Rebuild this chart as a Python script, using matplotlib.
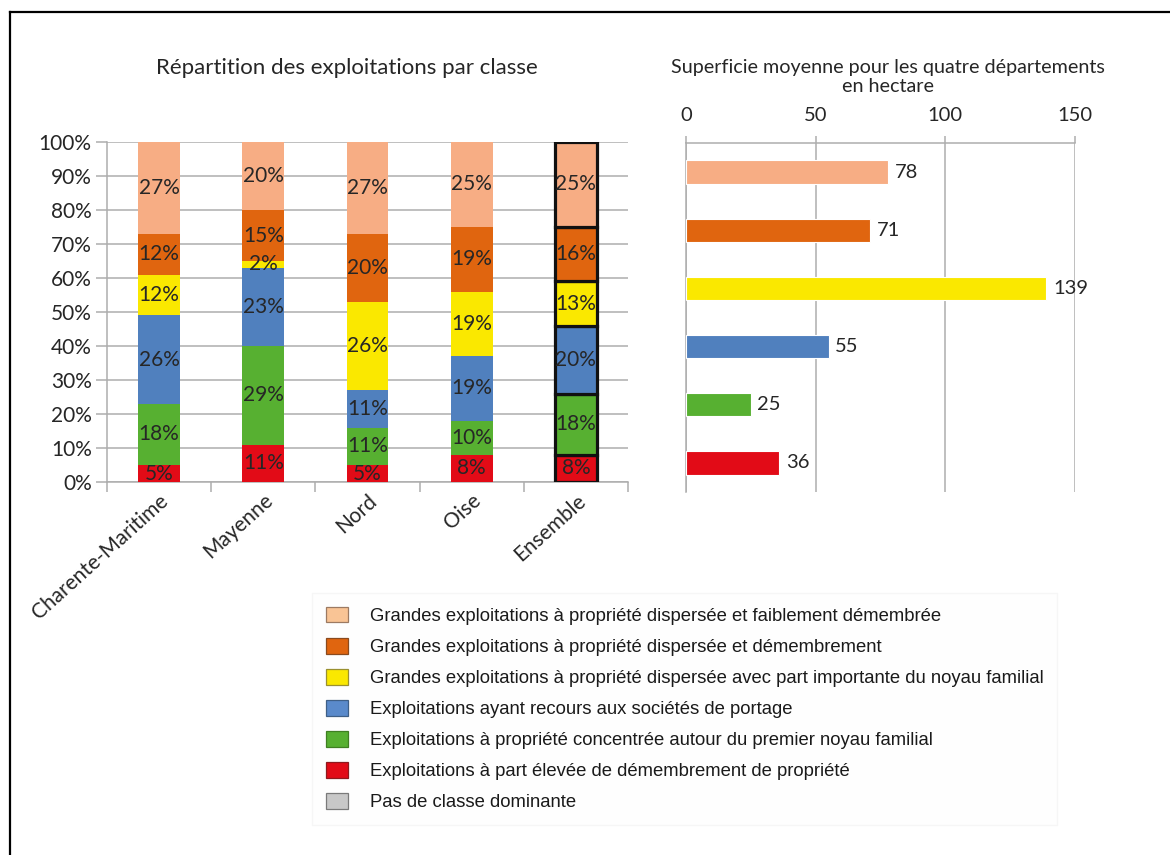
import numpy as np
import matplotlib
matplotlib.use("Agg")
import matplotlib.pyplot as plt
from matplotlib.patches import Patch
from matplotlib.lines import Line2D

# Stacked shares per department (bottom to top)
departements = ["Charente-Maritime", "Mayenne", "Nord", "Oise", "Ensemble"]
part_elevee = [5, 11, 5, 8, 8]
concentree = [18, 29, 11, 10, 18]
portage = [26, 23, 11, 19, 20]
noyau_familial = [12, 2, 26, 19, 13]
demembrement = [12, 15, 20, 19, 16]
faiblement = [27, 20, 27, 25, 25]

# Average area in hectares, listed top to bottom
superficie = [78, 71, 139, 55, 25, 36]

classes = [
    "Grandes exploitations à propriété dispersée et faiblement démembrée",
    "Grandes exploitations à propriété dispersée et démembrement",
    "Grandes exploitations à propriété dispersée avec part importante du noyau familial",
    "Exploitations ayant recours aux sociétés de portage",
    "Exploitations à propriété concentrée autour du premier noyau familial",
    "Exploitations à part élevée de démembrement de propriété",
    "Pas de classe dominante",
]
couleurs = ["#F7AD84", "#E0650F", "#FAE800", "#5080BE", "#57B031", "#E20B17", "#C8C8C8"]
legende_couleurs = ["#F9C495", "#E0650F", "#FAE800", "#5A8ACB", "#57B031", "#E20B17", "#C8C8C8"]
bords_legende = ["#9C7A62", "#8A4A1E", "#9A9030", "#3F5F86", "#3F7F22", "#8E1A1E", "#7A7A7A"]

W, H = 1170, 855
fig = plt.figure(figsize=(W / 100, H / 100), dpi=100)
fig.patch.set_facecolor("white")

def px_axes(x0, y0, x1, y1):
    return fig.add_axes([x0 / W, 1 - y1 / H, (x1 - x0) / W, (y1 - y0) / H])

grid_col = "#ADADAD"
txt_col = "#262626"
chart_font = "Lato"
fs = 15

# --- left: stacked bars ---
ax = px_axes(107, 142, 628, 482)
x = np.arange(len(departements))
series = [part_elevee, concentree, portage, noyau_familial, demembrement, faiblement]
series_cols = couleurs[:6][::-1]
bottom = np.zeros(len(departements))
for vals, col in zip(series, series_cols):
    vals = np.array(vals, dtype=float)
    for i in range(len(departements)):
        ensemble = departements[i] == "Ensemble"
        ax.bar(x[i], vals[i], 0.4, bottom=bottom[i], color=col,
               edgecolor="#111111" if ensemble else "none",
               linewidth=2.3 if ensemble else 0, zorder=3)
        ax.text(x[i], bottom[i] + vals[i] / 2, f"{vals[i]:.0f}%", ha="center", va="center",
                fontsize=fs, color=txt_col, family=chart_font, zorder=4, clip_on=True)
    bottom += vals

ax.set_xlim(-0.5, len(departements) - 0.5)
ax.set_ylim(0, 100)
ax.set_yticks(np.arange(0, 101, 10))
ax.set_yticklabels([f"{v}%" for v in range(0, 101, 10)], family=chart_font, fontsize=fs, color=txt_col)
ax.yaxis.grid(True, color=grid_col, linewidth=1.1, zorder=0)
ax.set_axisbelow(True)
ax.tick_params(axis="y", length=8, width=1.1, color=grid_col, pad=3)
ax.set_xticks(x)
ax.set_xticklabels(departements, rotation=42, ha="right", va="top", rotation_mode="anchor",
                   family=chart_font, fontsize=fs, color=txt_col)
ax.tick_params(axis="x", which="major", length=0, pad=6)
ax.set_xticks(np.arange(-0.5, len(departements)), minor=True)
ax.tick_params(axis="x", which="minor", length=7, width=1.1, color=grid_col)
for s in ["top", "right"]:
    ax.spines[s].set_visible(False)
for s in ["left", "bottom"]:
    ax.spines[s].set_color(grid_col)
    ax.spines[s].set_linewidth(1.1)

fig.text(347 / W, 1 - 68 / H, "Répartition des exploitations par classe", ha="center", va="center",
         family=chart_font, fontsize=16, color=txt_col)

# --- right: horizontal bars ---
ax2 = px_axes(686, 143, 1075, 492)
y = np.arange(len(superficie))
ax2.barh(y, superficie, 0.4, color=couleurs[:6], edgecolor="white", linewidth=0.8, zorder=3)
for yi, v in zip(y, superficie):
    ax2.text(v + 2.5, yi, f"{v}", ha="left", va="center", family=chart_font, fontsize=14.5,
             color=txt_col, zorder=4)
ax2.set_xlim(0, 150)
ax2.set_ylim(len(superficie) - 0.5, -0.5)
ax2.set_yticks([])
ax2.set_xticks([0, 50, 100, 150])
ax2.xaxis.tick_top()
ax2.tick_params(axis="x", length=5, width=1.1, color=grid_col, pad=8.5,
                labelsize=14.5, labelcolor=txt_col)
for lab in ax2.get_xticklabels():
    lab.set_family(chart_font)
ax2.xaxis.grid(True, color=grid_col, linewidth=1.1, zorder=0)
ax2.set_axisbelow(True)
for s in ["bottom", "right"]:
    ax2.spines[s].set_visible(False)
for s in ["left", "top"]:
    ax2.spines[s].set_color(grid_col)
    ax2.spines[s].set_linewidth(1.1)

# two-line title, each line placed on its own
fig.text(888 / W, 1 - 68 / H, "Superficie moyenne pour les quatre départements",
         ha="center", va="center", family=chart_font, fontsize=14.2, color=txt_col)
fig.text(888 / W, 1 - 86 / H, "en hectare",
         ha="center", va="center", family=chart_font, fontsize=14.2, color=txt_col)

# --- legend ---
handles = [Patch(facecolor=c, edgecolor=e, linewidth=0.9)
           for c, e in zip(legende_couleurs, bords_legende)]
leg = fig.legend(handles, classes, loc="upper left", bbox_to_anchor=(312 / W, 1 - 593 / H),
                 frameon=True, fancybox=False,
                 prop={"family": "Liberation Sans", "size": 13.3},
                 handlelength=1.19, handleheight=0.92, handletextpad=1.19,
                 labelspacing=0.7, borderpad=0.75, borderaxespad=0)
leg.get_frame().set_edgecolor("#F4F4F4")
leg.get_frame().set_facecolor("#FEFEFE")
for t in leg.get_texts():
    t.set_color("#1A1A1A")

# --- outer frame (top and left edges) ---
fig.add_artist(Line2D([10 / W, 1], [1 - 12 / H, 1 - 12 / H], color="black", linewidth=1.6))
fig.add_artist(Line2D([10 / W, 10 / W], [0, 1 - 12 / H], color="black", linewidth=1.6))

fig.savefig("out.png", dpi=100, facecolor="white")
